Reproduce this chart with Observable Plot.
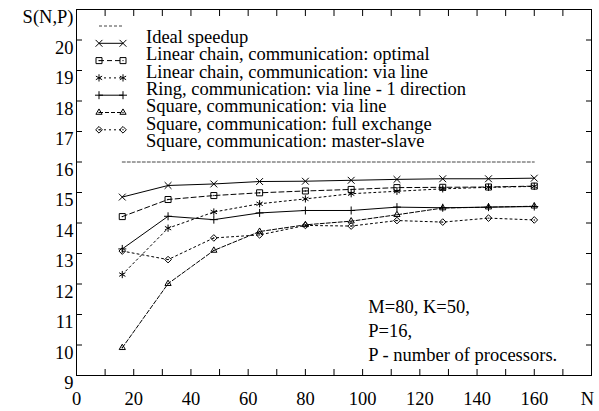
<!DOCTYPE html>
<html><head><meta charset="utf-8">
<script src="https://cdn.jsdelivr.net/npm/d3@7"></script>
<script src="https://cdn.jsdelivr.net/npm/@observablehq/plot@0.6"></script>
<style>html,body{margin:0;padding:0;background:#fff}svg{display:block}</style>
</head><body><div id="chart"></div>
<script>
// ---- data ----
const N = [16, 32, 48, 64, 80, 96, 112, 128, 144, 160];
const idealSpeedup   = [16, 16, 16, 16, 16, 16, 16, 16, 16, 16];
const linearOptimal  = [14.85, 15.23, 15.28, 15.36, 15.37, 15.40, 15.43, 15.45, 15.45, 15.47];
const linearViaLine  = [14.21, 14.77, 14.90, 14.99, 15.05, 15.10, 15.16, 15.17, 15.18, 15.21];
const ringViaLine    = [12.31, 13.83, 14.36, 14.63, 14.79, 14.96, 15.04, 15.12, 15.17, 15.20];
const squareViaLine  = [13.15, 14.22, 14.11, 14.33, 14.41, 14.41, 14.52, 14.50, 14.52, 14.54];
const squareFull     = [9.91, 12.01, 13.10, 13.72, 13.94, 14.06, 14.27, 14.49, 14.52, 14.55];
const squareMaster   = [13.08, 12.80, 13.51, 13.61, 13.92, 13.90, 14.08, 14.03, 14.16, 14.10];

const seriesNames = [
  "Ideal speedup",
  "Linear chain, communication: optimal",
  "Linear chain, communication: via line",
  "Ring, communication: via line - 1 direction",
  "Square, communication: via line",
  "Square, communication: full exchange",
  "Square, communication: master-slave"
];
const seriesValues = [idealSpeedup, linearOptimal, linearViaLine, ringViaLine, squareViaLine, squareFull, squareMaster];
const xTickLabels = [0, 20, 40, 60, 80, 100, 120, 140, 160];
const xTicks = [0, 10, 20, 30, 40, 50, 60, 70, 80, 90, 100, 110, 120, 130, 140, 150, 160, 170, 180];
const yTickLabels = [9, 10, 11, 12, 13, 14, 15, 16, 17, 18, 19, 20];
const yTicks = [9, 10, 11, 12, 13, 14, 15, 16, 17, 18, 19, 20, 21];
const yAxisTitle = "S(N,P)";
const xAxisTitle = "N";
const noteLines = ["M=80, K=50,", "P=16,", "P - number of processors."];

// ---- styles ----
const symbols = [null, "times", "square", "asterisk", "plus", "triangle", "diamond2"];
const symR    = [0, 3.2, 3.4, 3.4, 2.7, 2.3, 3.0];
const centerDot = [false, false, true, false, false, true, true];
const dashes  = ["3,2", null, "5,3", "2,3", null, "4,2", "2,3"];
const strokes = ["#444", "#000", "#000", "#000", "#000", "#000", "#000"];

const font = "'Liberation Serif', 'Times New Roman', 'DejaVu Serif', serif";
const FS = 18.5;
const W = 599, H = 411;

const marks = [Plot.frame({stroke: "#000", strokeWidth: 1})];
seriesValues.forEach((vals, i) => {
  marks.push(Plot.line(N, {x: N, y: vals, stroke: strokes[i], strokeWidth: 1, strokeDasharray: dashes[i] || undefined}));
  if (symbols[i]) {
    marks.push(Plot.dot(N, {x: N, y: vals, symbol: symbols[i], r: symR[i], stroke: "#000", fill: "none", strokeWidth: 1}));
    if (centerDot[i]) marks.push(Plot.dot(N, {x: N, y: vals, r: 0.7, fill: "#000", stroke: "none"}));
  }
});

const plot = Plot.plot({
  width: W, height: H,
  marginLeft: 76, marginTop: 9, marginRight: 8, marginBottom: 36,
  style: {fontFamily: font, fontSize: FS + "px", color: "#000", background: "#fff", overflow: "visible"},
  x: {domain: [0, 180], label: null},
  y: {domain: [9, 21], label: null},
  marks: [
    ...marks,
    // inward ticks on all four sides
    Plot.axisX(xTicks, {anchor: "bottom", tickSize: -6, fill: "none", label: null}),
    Plot.axisX(xTicks, {anchor: "top", tickSize: -6, fill: "none", label: null}),
    Plot.axisY(yTicks, {anchor: "left", tickSize: -6, fill: "none", label: null}),
    Plot.axisY(yTicks, {anchor: "right", tickSize: -6, fill: "none", label: null}),
    // tick labels
    Plot.axisX(xTickLabels, {anchor: "bottom", tickSize: 0, tickPadding: 16, label: null, tickFormat: d => String(d)}),
    Plot.axisY([...yTickLabels, 21], {anchor: "left", tickSize: 0, tickPadding: 3, dy: 8, label: null,
      tickFormat: d => d === 21 ? yAxisTitle : String(d)}),
    Plot.text([xAxisTitle], {frameAnchor: "bottom-right", text: d => d, dx: -4, dy: 29, textAnchor: "middle", fontSize: FS}),
    Plot.text([noteLines.join("\n")], {x: 102, y: 11.6, text: d => d, textAnchor: "start", lineAnchor: "top", lineHeight: 1.3, fontSize: FS})
  ]
});

// legend drawn inside the frame
const svg = d3.select(plot);
const lg = svg.append("g").attr("font-family", font).attr("font-size", FS).attr("text-anchor", "start");
seriesNames.forEach((name, i) => {
  const y = 26 + 17.3 * i;
  lg.append("line").attr("x1", 99).attr("x2", 123).attr("y1", y).attr("y2", y)
    .attr("stroke", strokes[i]).attr("stroke-width", 1)
    .attr("stroke-dasharray", dashes[i] || null);
  if (symbols[i]) {
    const sym = {times: d3.symbolTimes, square: d3.symbolSquare, asterisk: d3.symbolAsterisk,
                 plus: d3.symbolPlus, triangle: d3.symbolTriangle, diamond2: d3.symbolDiamond2}[symbols[i]];
    const path = d3.symbol(sym, Math.PI * symR[i] * symR[i])();
    [99, 123].forEach(x => {
      lg.append("path").attr("d", path).attr("transform", `translate(${x},${y})`)
        .attr("fill", "none").attr("stroke", "#000").attr("stroke-width", 1);
      if (centerDot[i]) lg.append("circle").attr("cx", x).attr("cy", y).attr("r", 0.7).attr("fill", "#000");
    });
  }
  lg.append("text").attr("x", 146).attr("y", y + 17).attr("fill", "#000").attr("text-anchor", "start").text(name);
});

document.getElementById("chart").appendChild(plot);
</script>
</body></html>
